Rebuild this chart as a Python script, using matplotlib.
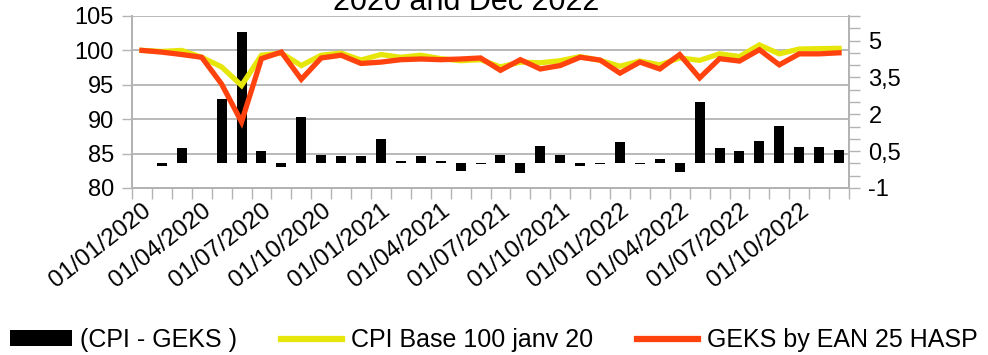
import matplotlib
matplotlib.use("Agg")
import matplotlib.pyplot as plt
import numpy as np
from matplotlib.patches import Patch
from matplotlib.lines import Line2D

plt.rcParams["font.family"] = ["Liberation Sans", "DejaVu Sans"]

# monthly values, Jan 2020 .. Dec 2022
cpi = [100.0, 99.85, 100.0, 99.0, 97.6, 94.9, 99.3, 99.6, 97.8, 99.3,
       99.6, 98.6, 99.4, 99.0, 99.3, 98.8, 98.5, 98.65, 97.6, 98.3,
       98.2, 98.5, 99.1, 98.55, 97.7, 98.45, 97.9, 98.9, 98.55, 99.5,
       99.1, 100.8, 99.5, 100.2, 100.25, 100.3]
geks = [100.0, 99.75, 99.4, 99.0, 95.1, 89.6, 98.8, 99.75, 95.8, 98.9,
        99.3, 98.1, 98.3, 98.65, 98.75, 98.65, 98.75, 98.9, 97.1, 98.65,
        97.3, 97.8, 99.0, 98.6, 96.7, 98.3, 97.3, 99.4, 96.0, 98.8,
        98.45, 100.1, 97.9, 99.5, 99.5, 99.65]
diff = [0.03, -0.12, 0.64, 0.03, 2.61, 5.34, 0.5, -0.14, 1.88, 0.34,
        0.30, 0.30, 0.99, 0.1, 0.3, 0.1, -0.3, -0.03, 0.34, -0.38,
        0.70, 0.34, -0.1, -0.03, 0.87, -0.02, 0.18, -0.34, 2.49, 0.64,
        0.5, 0.91, 1.52, 0.68, 0.68, 0.54]
date_labels = ["01/01/2020", "01/04/2020", "01/07/2020", "01/10/2020",
               "01/01/2021", "01/04/2021", "01/07/2021", "01/10/2021",
               "01/01/2022", "01/04/2022", "01/07/2022", "01/10/2022"]
left_ticks = [80, 85, 90, 95, 100, 105]
right_ticks = [-1, 0.5, 2, 3.5, 5]
right_labels = ["-1", "0,5", "2", "3,5", "5"]

grey = "#b3b3b3"
yellow = "#e6e60a"
red = "#ff420e"
fs = 17

x = np.arange(len(cpi))

fig = plt.figure(figsize=(9.88, 3.55), dpi=100)
ax = fig.add_axes([132/988, 1-188/355, (849-132)/988, (188-16)/355])
ax2 = ax.twinx()

# left axis: index values
ax.set_xlim(-0.5, len(cpi) - 0.5)
ax.set_ylim(80, 105)
ax.set_yticks(left_ticks)
ax.set_yticklabels([str(v) for v in left_ticks])
ax.grid(axis="y", color=grey, lw=1.3)
ax.set_axisbelow(True)
ax.tick_params(axis="y", length=7, width=1, color=grey, pad=6, labelsize=fs)

ax.set_xticks(x[::3])
ax.set_xticklabels(date_labels, rotation=38, ha="right", va="top",
                   rotation_mode="anchor", fontsize=17.5)
ax.set_xticks(np.arange(-0.5, len(cpi), 1), minor=True)
ax.tick_params(axis="x", which="major", length=0, pad=8)
ax.tick_params(axis="x", which="minor", length=8, width=1, color=grey)

# right axis: difference bars
ax2.set_ylim(-1, 6)
ax2.set_yticks(right_ticks)
ax2.set_yticklabels(right_labels)
ax2.set_yticks(np.arange(-1, 6.01, 0.5), minor=True)
ax2.tick_params(axis="y", which="both", length=8, width=1, color=grey,
                pad=6, labelsize=fs)
ax2.bar(x, diff, width=0.5, color="black", zorder=2)

# the lines use the left scale but sit above the bars
ax2.plot(x, cpi, color=yellow, lw=3.8, transform=ax.transData, zorder=3,
         solid_joinstyle="miter")
ax2.plot(x, geks, color=red, lw=3.8, transform=ax.transData, zorder=4,
         solid_joinstyle="miter")
ax2.set_ylim(-1, 6)

for a in (ax, ax2):
    for s in a.spines.values():
        s.set_color(grey)
        s.set_linewidth(1.3)
    a.spines["top"].set_visible(False)

handles = [Patch(facecolor="black"),
           Line2D([], [], color=yellow, lw=4.5),
           Line2D([], [], color=red, lw=4.5)]
labels = ["(CPI - GEKS )", "CPI Base 100 janv 20", "GEKS by EAN 25 HASP"]
fig.legend(handles, labels, loc="center", bbox_to_anchor=(0.5, 1-340/355),
           ncol=3, frameon=False, fontsize=18, handlelength=2.45,
           handletextpad=0.35, columnspacing=1.75, handleheight=0.62)

fig.text(466/988, 1-10/355, "2020 and Dec 2022", ha="center",
         va="baseline", fontsize=22)

fig.savefig("out.png", dpi=100)
